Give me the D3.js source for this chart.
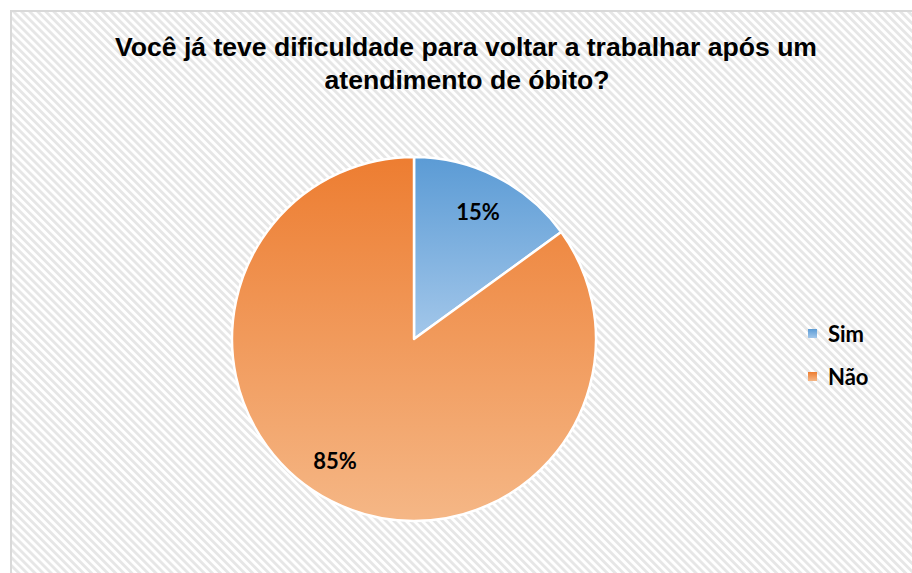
<!DOCTYPE html>
<html>
<head>
<meta charset="utf-8">
<script src="https://cdn.jsdelivr.net/npm/d3@7"></script>
<style>
  html, body { margin: 0; padding: 0; background: #ffffff; }
  svg { display: block; }
</style>
</head>
<body>
<svg id="chart" width="912" height="573"></svg>
<script>
// ---- data ----
const categories = ["Sim", "Não"];
const values = [15, 85];
const labels = ["15%", "85%"];
const titleLines = ["Você já teve dificuldade para voltar a trabalhar após um", "atendimento de óbito?"];
const topColors = ["#5b9bd5", "#ed7d31"];
const bottomColors = ["#a3c7ea", "#f5b786"];

const svg = d3.select("#chart");
const W = 912, H = 573;
const defs = svg.append("defs");

// hatch background
const pat = defs.append("pattern")
  .attr("id", "hatch").attr("patternUnits", "userSpaceOnUse")
  .attr("width", 5.7).attr("height", 5.7)
  .attr("patternTransform", "rotate(-45)");
pat.append("rect").attr("width", 5.7).attr("height", 5.7).attr("fill", "#ffffff");
pat.append("rect").attr("width", 2.8).attr("height", 5.7).attr("fill", "#e6e6e6");

svg.append("rect").attr("x", 0).attr("y", 0).attr("width", W).attr("height", H).attr("fill", "#ffffff");
svg.append("rect").attr("x", 11).attr("y", 11).attr("width", W + 20).attr("height", H + 20)
  .attr("fill", "url(#hatch)").attr("stroke", "#d9d9d9").attr("stroke-width", 2);

// gradients
categories.forEach((c, i) => {
  const g = defs.append("linearGradient").attr("id", "grad" + i)
    .attr("x1", 0).attr("y1", 0).attr("x2", 0).attr("y2", 1);
  g.append("stop").attr("offset", "0%").attr("stop-color", topColors[i]);
  g.append("stop").attr("offset", "100%").attr("stop-color", bottomColors[i]);
});

// title
const title = svg.append("text").attr("text-anchor", "middle")
  .attr("font-family", "Liberation Sans, Arial, sans-serif").attr("font-weight", "bold")
  .attr("font-size", 25).attr("fill", "#000");
title.append("tspan").attr("x", 466).attr("y", 56).attr("textLength", 702)
  .attr("lengthAdjust", "spacingAndGlyphs").text(titleLines[0]);
title.append("tspan").attr("x", 467).attr("y", 89).attr("textLength", 285)
  .attr("lengthAdjust", "spacingAndGlyphs").text(titleLines[1]);

// pie
const cx = 414, cy = 339, r = 182;
const pie = d3.pie().sort(null).value(d => d)(values);
const arc = d3.arc().innerRadius(0).outerRadius(r);
const g = svg.append("g").attr("transform", `translate(${cx},${cy})`);
g.selectAll("path.slice").data(pie).join("path")
  .attr("class", "slice")
  .attr("d", arc)
  .attr("fill", (d, i) => `url(#grad${i})`)
  .attr("stroke", "#ffffff").attr("stroke-width", 2.5).attr("stroke-linejoin", "round");

// labels
const labelPos = [[478 - cx, 220 - cy], [335 - cx, 469 - cy]];
g.selectAll("text.lbl").data(pie).join("text")
  .attr("class", "lbl")
  .attr("x", (d, i) => labelPos[i][0])
  .attr("y", (d, i) => labelPos[i][1])
  .attr("text-anchor", "middle")
  .attr("font-family", "Lato, Carlito, sans-serif").attr("font-weight", "bold")
  .attr("font-size", 22).attr("fill", "#000")
  .text((d, i) => labels[i]);

// legend
const legend = svg.append("g").attr("transform", "translate(808,329)");
categories.forEach((c, i) => {
  const row = legend.append("g").attr("transform", `translate(0,${i * 43})`);
  row.append("rect").attr("x", 0).attr("y", 0).attr("width", 9).attr("height", 9)
    .attr("fill", `url(#grad${i})`);
  row.append("text").attr("x", 20).attr("y", 13)
    .attr("font-family", "Lato, Carlito, sans-serif").attr("font-weight", "bold")
    .attr("font-size", 22).attr("fill", "#000").text(c);
});
</script>
</body>
</html>
